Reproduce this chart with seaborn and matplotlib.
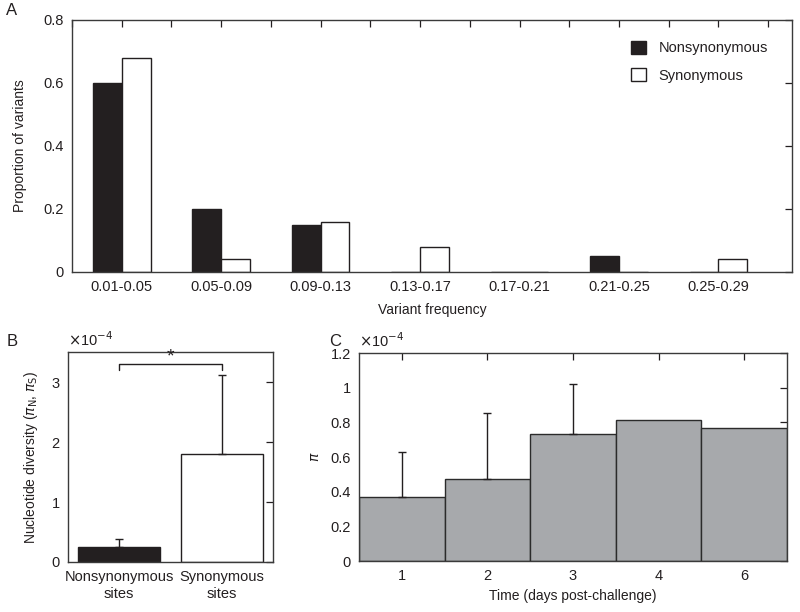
import numpy as np
import pandas as pd
import matplotlib
matplotlib.use("Agg")
import matplotlib.pyplot as plt
import seaborn as sns
from matplotlib.patches import Patch
from matplotlib.ticker import FuncFormatter

# Panel A: distribution of variant frequencies
freq_bins = ["0.01-0.05", "0.05-0.09", "0.09-0.13", "0.13-0.17",
             "0.17-0.21", "0.21-0.25", "0.25-0.29"]
nonsyn_prop = [0.60, 0.20, 0.15, 0.0, 0.0, 0.05, 0.0]
syn_prop = [0.68, 0.04, 0.16, 0.08, 0.0, 0.0, 0.04]

# Panel B: nucleotide diversity by site class
site_labels = ["Nonsynonymous\nsites", "Synonymous\nsites"]
site_pi = [0.25e-4, 1.80e-4]
site_err = [0.14e-4, 1.31e-4]

# Panel C: diversity over time
days = ["1", "2", "3", "4", "6"]
day_pi = [0.37e-4, 0.475e-4, 0.733e-4, 0.815e-4, 0.767e-4]
day_err = [0.26e-4, 0.377e-4, 0.29e-4, np.nan, np.nan]

INK = "#231f20"
GREY = "#a7a9ac"

sns.set_style("white")
plt.rcParams["font.family"] = ["Liberation Sans", "DejaVu Sans"]
plt.rcParams["mathtext.fontset"] = "dejavusans"
plt.rcParams["font.size"] = 10
plt.rcParams["text.color"] = INK
plt.rcParams["axes.labelcolor"] = INK
plt.rcParams["xtick.color"] = INK
plt.rcParams["ytick.color"] = INK


def matlab_axes(ax):
    for s in ax.spines.values():
        s.set_visible(True)
        s.set_color("#3a3a3a")
        s.set_linewidth(1.0)
    ax.tick_params(direction="in", length=5, width=0.9, top=True, right=True,
                   labelsize=10.5, pad=6)


def upper_errorbars(ax, vals, errs):
    idx = [i for i, e in enumerate(errs) if not np.isnan(e)]
    ax.errorbar(idx, [vals[i] for i in idx],
                yerr=[np.zeros(len(idx)), [errs[i] for i in idx]],
                fmt="none", ecolor=INK, elinewidth=1.0, capsize=3, capthick=1.0)


fig = plt.figure(figsize=(8, 6.12), dpi=100)

# ---- A ----
axA = fig.add_axes([0.09, 0.5556, 0.9, 0.4118])
dfA = pd.DataFrame({
    "bin": freq_bins * 2,
    "prop": nonsyn_prop + syn_prop,
    "type": ["Nonsynonymous"] * len(freq_bins) + ["Synonymous"] * len(freq_bins),
})
sns.barplot(data=dfA, x="bin", y="prop", hue="type", ax=axA, width=0.58,
            palette={"Nonsynonymous": INK, "Synonymous": "white"},
            edgecolor=INK, linewidth=1.0, saturation=1)
axA.set_xlim(-0.49, 6.74)
axA.set_ylim(0, 0.8)
axA.set_yticks([0, 0.2, 0.4, 0.6, 0.8])
axA.yaxis.set_major_formatter(FuncFormatter(lambda v, p: f"{v:g}"))
ticks = np.arange(-0.5, 7.0, 0.5)
axA.set_xticks(ticks)
axA.set_xticklabels([freq_bins[int(t)] if t == int(t) and 0 <= t < 7 else ""
                     for t in ticks])
axA.set_xlabel("Variant frequency", labelpad=6)
axA.set_ylabel("Proportion of variants", labelpad=12)
matlab_axes(axA)
handles = [Patch(facecolor=INK, edgecolor=INK), Patch(facecolor="white", edgecolor=INK)]
axA.legend(handles, ["Nonsynonymous", "Synonymous"], loc="upper right",
           bbox_to_anchor=(0.985, 0.97), frameon=False, handlelength=1.0,
           handleheight=1.0, handletextpad=0.9, labelspacing=0.9, fontsize=10.5)
fig.text(0.008, 0.975, "A", fontsize=12)

# ---- B ----
axB = fig.add_axes([0.085, 0.0817, 0.25625, 0.343])
sns.barplot(x=site_labels, y=site_pi, ax=axB, width=0.8,
            palette=[INK, "white"], hue=site_labels, legend=False,
            edgecolor=INK, linewidth=1.0, saturation=1)
upper_errorbars(axB, site_pi, site_err)
axB.set_xlim(-0.5, 1.5)
axB.set_ylim(0, 3.5e-4)
axB.set_yticks([0, 1e-4, 2e-4, 3e-4])
axB.yaxis.set_major_formatter(FuncFormatter(lambda v, p: f"{v / 1e-4:g}"))
axB.set_ylabel(r"Nucleotide diversity ($\pi_\mathrm{N}$, $\pi_\mathrm{S}$)", labelpad=8)
matlab_axes(axB)
axB.tick_params(axis="x", length=0, labelsize=10.5)
# significance bracket
yb = 3.3e-4
axB.plot([0, 0, 1, 1], [3.2e-4, yb, yb, 3.2e-4], color=INK, lw=1.0)
axB.text(0.5, yb - 0.02e-4, "*", ha="center", va="bottom", fontsize=14)
axB.text(0.0, 1.015, r"$\times$10$^{-4}$", transform=axB.transAxes,
         ha="left", va="bottom", fontsize=10.5)
fig.text(0.008, 0.435, "B", fontsize=12)

# ---- C ----
axC = fig.add_axes([0.44875, 0.0833, 0.535, 0.3399])
sns.barplot(x=days, y=day_pi, ax=axC, width=1.0, color=GREY,
            edgecolor="#2b2b2b", linewidth=1.0, saturation=1)
upper_errorbars(axC, day_pi, day_err)
axC.set_xlim(-0.5, 4.5)
axC.set_ylim(0, 1.2e-4)
axC.set_yticks(np.arange(0, 1.21e-4, 0.2e-4))
axC.yaxis.set_major_formatter(FuncFormatter(lambda v, p: f"{round(v / 1e-4, 1):g}"))
axC.set_xlabel("Time (days post-challenge)", labelpad=4)
axC.set_ylabel(r"$\pi$", labelpad=6)
matlab_axes(axC)
axC.text(0.0, 1.015, r"$\times$10$^{-4}$", transform=axC.transAxes,
         ha="left", va="bottom", fontsize=10.5)
fig.text(0.411, 0.435, "C", fontsize=12)

fig.savefig("out.png", dpi=100)
